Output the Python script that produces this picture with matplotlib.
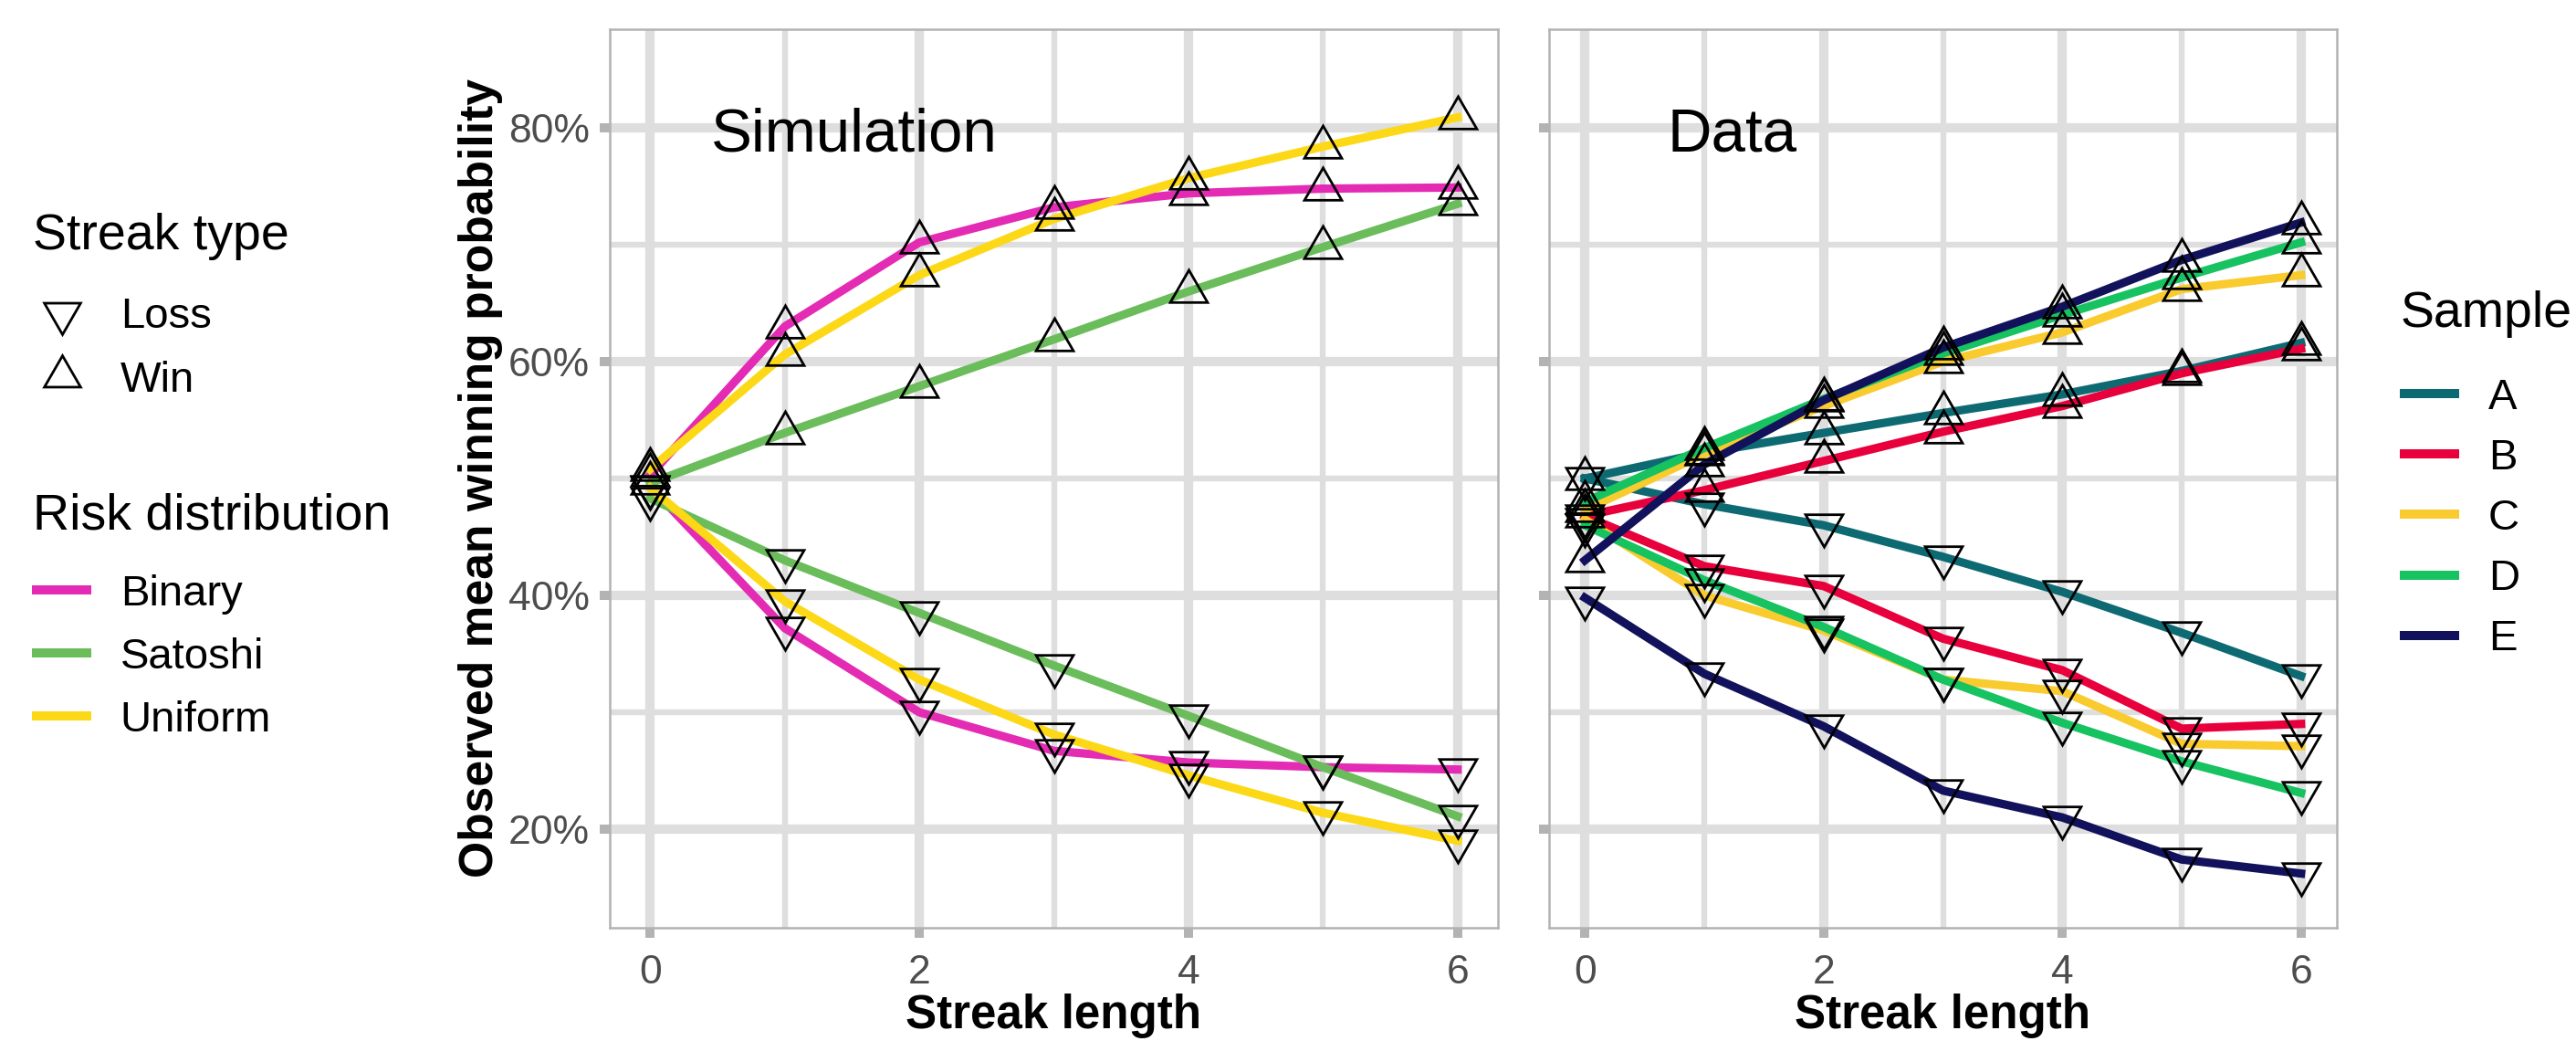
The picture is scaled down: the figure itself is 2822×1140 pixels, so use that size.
import matplotlib
matplotlib.use('Agg')
import matplotlib.pyplot as plt
from matplotlib.lines import Line2D
from matplotlib.ticker import MultipleLocator, FuncFormatter

plt.rcParams['font.family'] = ['Liberation Sans', 'DejaVu Sans']

# ---- datos (porcentaje) ----
streak = [0, 1, 2, 3, 4, 5, 6]

sim_names = ['Binary', 'Satoshi', 'Uniform']
sim_colors = ['#E32BB4', '#6ABD5A', '#FDD816']
binary_win = [50.3, 63.0, 70.2, 73.2, 74.4, 74.8, 74.9]
binary_loss = [49.3, 37.2, 30.0, 26.7, 25.7, 25.3, 25.1]
satoshi_win = [49.6, 53.9, 57.9, 61.9, 66.0, 69.8, 73.5]
satoshi_loss = [48.3, 43.0, 38.5, 34.0, 29.7, 25.3, 21.1]
uniform_win = [50.8, 60.6, 67.4, 72.2, 75.7, 78.4, 80.9]
uniform_loss = [49.2, 39.5, 32.8, 28.1, 24.6, 21.4, 19.0]

data_names = ['A', 'B', 'C', 'D', 'E']
data_colors = ['#0E6A72', '#E8003C', '#F9CB2E', '#17C261', '#12125C']
a_win = [50.0, 52.2, 53.9, 55.6, 57.2, 59.2, 61.6]
a_loss = [50.0, 47.8, 46.0, 43.3, 40.3, 36.8, 33.1]
b_win = [46.8, 49.0, 51.5, 54.0, 56.2, 59.0, 61.1]
b_loss = [46.8, 42.5, 40.8, 36.3, 33.6, 28.6, 29.0]
c_win = [47.3, 52.1, 56.2, 60.0, 62.5, 66.2, 67.4]
c_loss = [46.5, 40.0, 37.0, 32.8, 31.8, 27.3, 27.1]
d_win = [48.0, 52.6, 56.8, 60.7, 64.0, 67.2, 70.2]
d_loss = [46.0, 41.3, 37.3, 32.8, 29.1, 25.8, 23.1]
e_win = [43.0, 51.2, 56.7, 61.2, 64.7, 68.7, 71.9]
e_loss = [39.8, 33.3, 28.8, 23.3, 21.0, 17.4, 16.2]

sim_win = [binary_win, satoshi_win, uniform_win]
sim_loss = [binary_loss, satoshi_loss, uniform_loss]
data_win = [a_win, b_win, c_win, d_win, e_win]
data_loss = [a_loss, b_loss, c_loss, d_loss, e_loss]

UP = (3, 0, 0)
DOWN = (3, 0, 180)
GRID = '#DEDEDE'
BORDER = '#B3B3B3'
TXT = '#4D4D4D'


def estilo(ax, etiquetas_y=True):
    ax.set_xlim(-0.3, 6.3)
    ax.set_ylim(11.56, 88.48)
    ax.xaxis.set_major_locator(MultipleLocator(2))
    ax.xaxis.set_minor_locator(MultipleLocator(1))
    ax.yaxis.set_major_locator(MultipleLocator(20))
    ax.yaxis.set_minor_locator(MultipleLocator(10))
    ax.yaxis.set_major_formatter(FuncFormatter(lambda v, p: f'{v:.0f}%'))
    ax.grid(True, which='major', color=GRID, lw=3.7)
    ax.grid(True, which='minor', color=GRID, lw=2.3)
    ax.set_axisbelow(True)
    for s in ax.spines.values():
        s.set_color(BORDER)
        s.set_linewidth(0.9)
    ax.tick_params(which='major', length=4, width=3.6, color=BORDER,
                   labelcolor=TXT, labelsize=16, pad=4)
    ax.tick_params(axis='x', which='major', pad=6.5)
    ax.tick_params(which='minor', length=0)
    if not etiquetas_y:
        ax.tick_params(axis='y', labelleft=False)
    ax.set_xlabel('Streak length', fontsize=18.4, fontweight='bold', labelpad=0.5)


def panel(ax, wins, losses, colors):
    for w, l, c in zip(wins, losses, colors):
        ax.plot(streak, w, color=c, lw=3.3, zorder=2)
        ax.plot(streak, l, color=c, lw=3.3, zorder=2)
    for w, l in zip(wins, losses):
        ax.plot(streak, w, ls='none', marker=UP, ms=17, mfc='none',
                mec='black', mew=1.0, zorder=3)
        ax.plot(streak, l, ls='none', marker=DOWN, ms=17, mfc='none',
                mec='black', mew=1.0, zorder=3)


fig = plt.figure(figsize=(14.11, 5.70), dpi=200)
W, H = 2822, 1140

ax1 = fig.add_axes([668 / W, 1 - 1016 / H, 973 / W, 984.5 / H])
ax2 = fig.add_axes([1697 / W, 1 - 1016 / H, 863 / W, 984.5 / H])

panel(ax1, sim_win, sim_loss, sim_colors)
panel(ax2, data_win, data_loss, data_colors)
estilo(ax1)
estilo(ax2, etiquetas_y=False)
ax1.set_ylabel('Observed mean winning probability', fontsize=18.6,
               fontweight='bold', labelpad=2)

ax1.text(0.45, 78.0, 'Simulation', fontsize=24.2, ha='left', va='baseline')
ax2.text(0.69, 78.0, 'Data', fontsize=24.2, ha='left', va='baseline')

# ---- leyendas ----
ley = dict(loc='center left', frameon=False, fontsize=17, handlelength=1.165,
           handletextpad=0.78, labelspacing=0.53, borderpad=0, borderaxespad=0)

fig.text(36 / W, 1 - 273 / H, 'Streak type', fontsize=20, va='baseline')
h_tipo = [Line2D([], [], ls='none', marker=DOWN, ms=16.5, mfc='none',
                 mec='black', mew=1.0),
          Line2D([], [], ls='none', marker=UP, ms=16.5, mfc='none',
                 mec='black', mew=1.0)]
fig.legend(h_tipo, ['Loss', 'Win'], bbox_to_anchor=(40 / W, 1 - 382 / H), **ley)

fig.text(36 / W, 1 - 580 / H, 'Risk distribution', fontsize=20, va='baseline')
h_dist = [Line2D([], [], color=c, lw=3.6) for c in sim_colors]
fig.legend(h_dist, sim_names, bbox_to_anchor=(40 / W, 1 - 720 / H), **ley)

fig.text(2630 / W, 1 - 358 / H, 'Sample', fontsize=20, va='baseline')
h_data = [Line2D([], [], color=c, lw=3.6) for c in data_colors]
ley_d = dict(ley, labelspacing=0.47)
fig.legend(h_data, data_names, bbox_to_anchor=(2634 / W, 1 - 568 / H), **ley_d)

fig.savefig('out.png', dpi=200)
